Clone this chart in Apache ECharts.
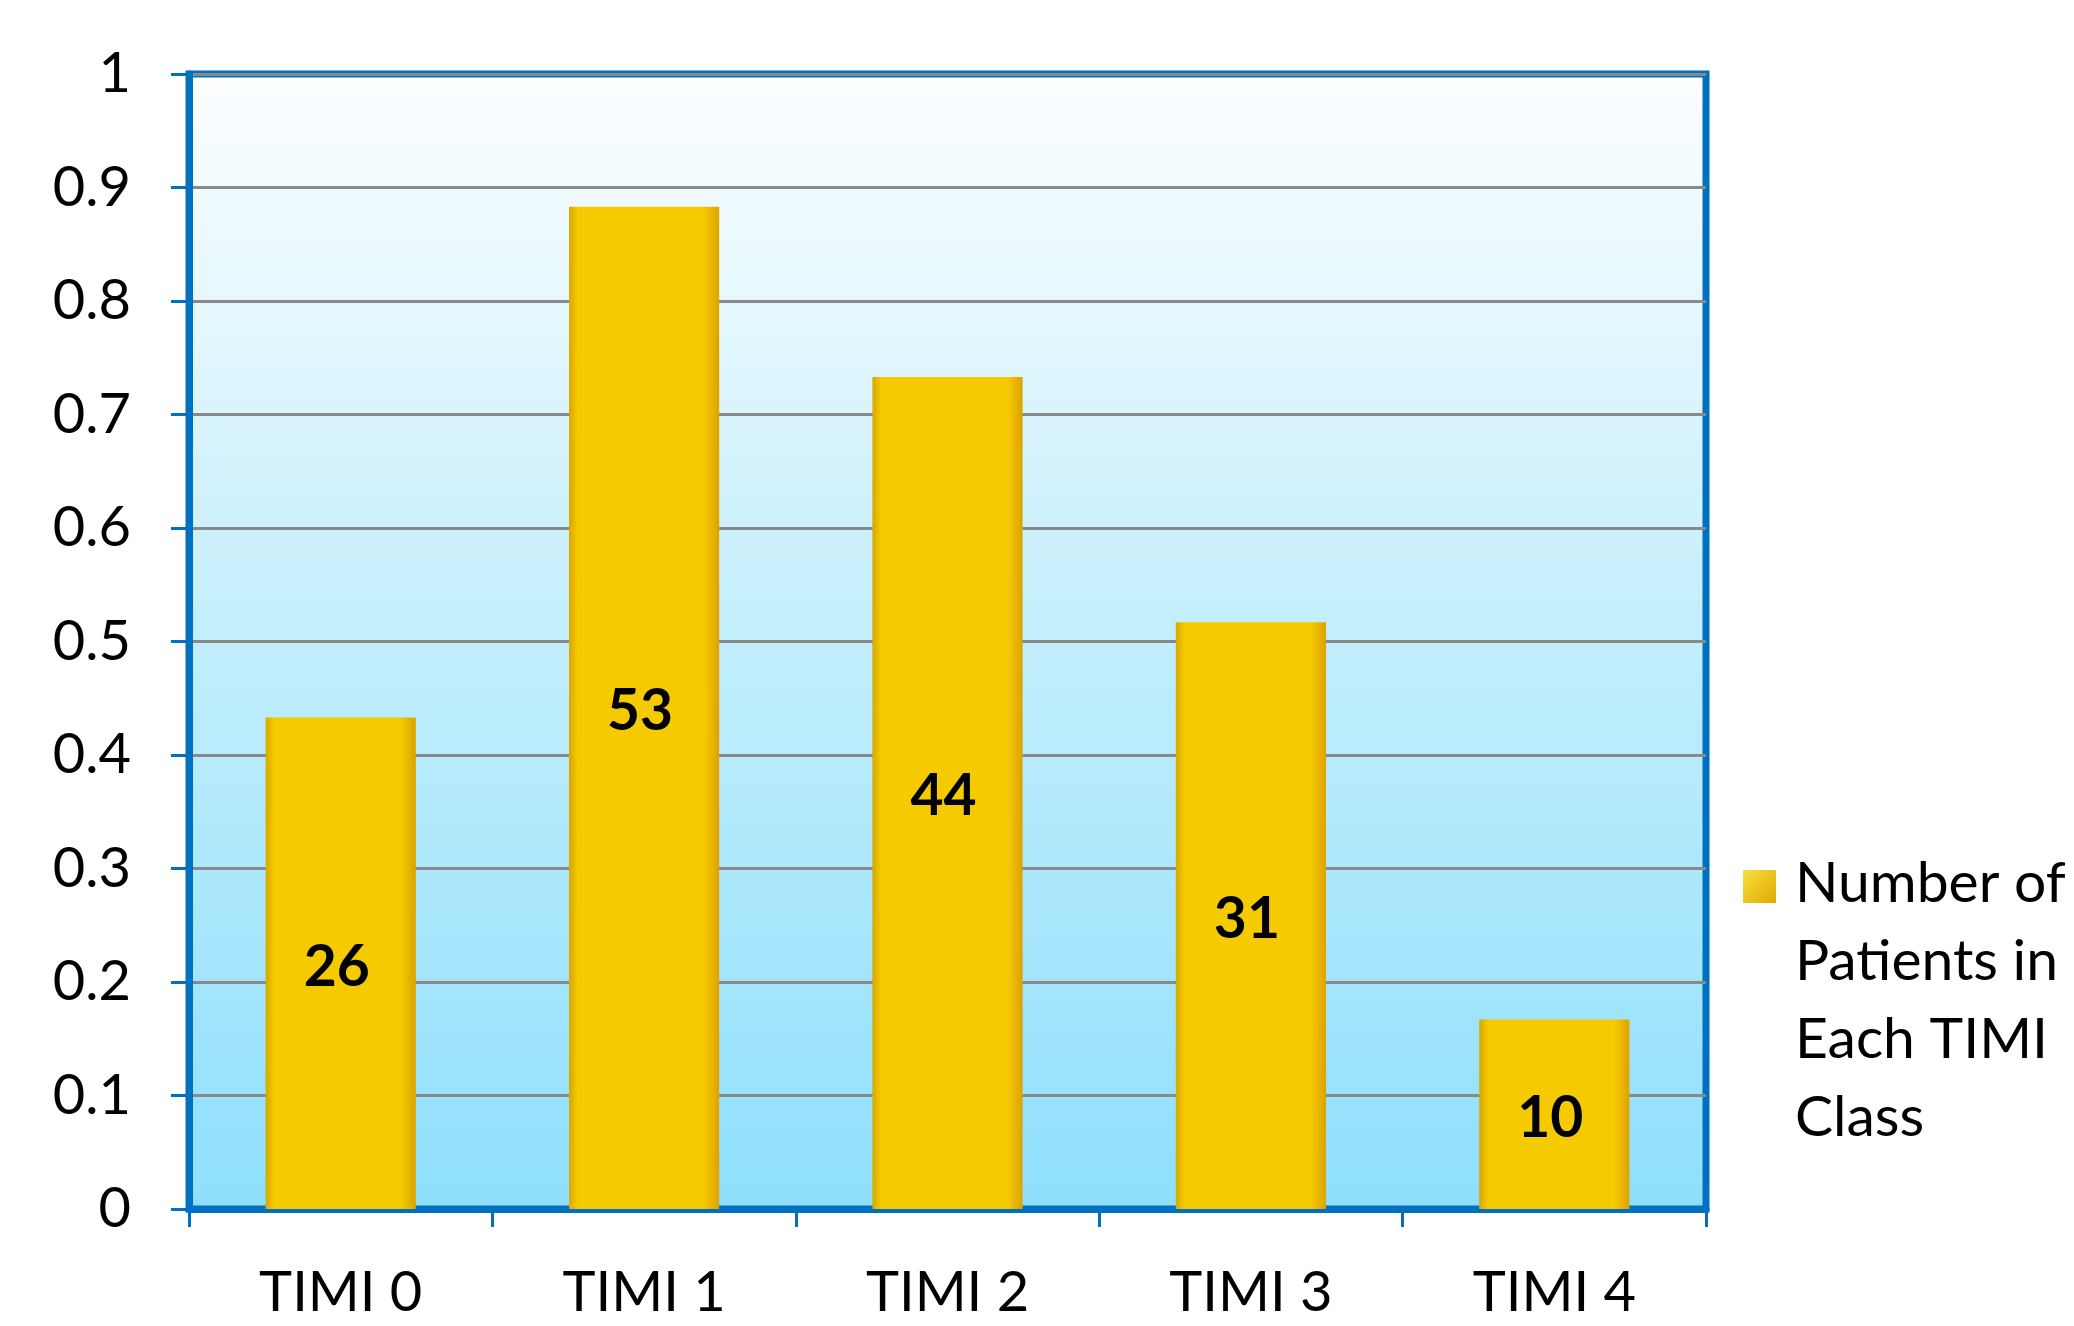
<!DOCTYPE html>
<html>
<head>
<meta charset="utf-8">
<script src="https://cdn.jsdelivr.net/npm/echarts@6/dist/echarts.min.js"></script>
<style>
html,body{margin:0;padding:0;background:#ffffff;}
#chart{width:2074px;height:1326px;}
</style>
</head>
<body>
<div id="chart"></div>
<script>
var categories = ['TIMI 0', 'TIMI 1', 'TIMI 2', 'TIMI 3', 'TIMI 4'];
var barHeights = [0.433, 0.883, 0.733, 0.517, 0.167];
var patientCounts = [26, 53, 44, 31, 10];
var seriesName = 'Number of\nPatients in\nEach TIMI\nClass';
var yMin = 0, yMax = 1, yStep = 0.1;

var FONT = 'Lato, "Open Sans", sans-serif';
var chart = echarts.init(document.getElementById('chart'));
chart.setOption({
  animation: false,
  backgroundColor: '#ffffff',
  grid: {
    left: 189, top: 74, width: 1517, height: 1135,
    show: true,
    borderColor: '#0070C0',
    borderWidth: 7,
    backgroundColor: {
      type: 'linear', x: 0, y: 0, x2: 0, y2: 1,
      colorStops: [
        {offset: 0, color: '#FDFEFF'},
        {offset: 0.5, color: '#C2EEFC'},
        {offset: 1, color: '#8EDFFC'}
      ]
    }
  },
  legend: {
    left: 1738, top: 865,
    selectedMode: false,
    itemWidth: 33, itemHeight: 33,
    icon: 'rect',
    formatter: function () { return ''; },
    data: [{name: seriesName, itemStyle: {color: {
      type: 'linear', x: 0, y: 0, x2: 1, y2: 1,
      colorStops: [{offset: 0, color: '#F8E040'}, {offset: 1, color: '#E0A800'}]
    }}}]
  },
  graphic: [{
    type: 'text',
    left: 1795,
    top: 845,
    style: {
      text: seriesName,
      font: '57px ' + FONT,
      fill: '#000',
      lineHeight: 78
    }
  }],
  xAxis: {
    type: 'category',
    data: categories,
    boundaryGap: true,
    axisLine: {lineStyle: {color: '#0070C0', width: 7}},
    axisTick: {show: true, length: 18, lineStyle: {color: '#0070C0', width: 3}},
    axisLabel: {fontFamily: FONT, fontSize: 56, color: '#000', margin: 56}
  },
  yAxis: {
    type: 'value',
    min: yMin, max: yMax, interval: yStep,
    axisLine: {show: true, lineStyle: {color: '#0070C0', width: 7}},
    axisTick: {show: true, length: 18, lineStyle: {color: '#0070C0', width: 3}},
    axisLabel: {fontFamily: FONT, fontSize: 56, color: '#000', margin: 58},
    splitLine: {lineStyle: {color: '#898989', width: 3}}
  },
  series: [{
    name: seriesName,
    type: 'bar',
    data: barHeights,
    barWidth: '49.5%',
    barGap: 0,
    itemStyle: {
      color: {
        type: 'linear', x: 0, y: 0, x2: 1, y2: 0,
        colorStops: [
          {offset: 0, color: '#D6A800'},
          {offset: 0.06, color: '#F6CA00'},
          {offset: 0.9, color: '#F6CA00'},
          {offset: 1, color: '#DCA200'}
        ]
      }
    },
    label: {
      show: true,
      position: 'inside',
      offset: [-4, 4],
      fontFamily: FONT,
      fontWeight: 'bold',
      fontSize: 57,
      color: '#000',
      formatter: function (p) { return String(patientCounts[p.dataIndex]); }
    }
  }]
});
</script>
</body>
</html>
